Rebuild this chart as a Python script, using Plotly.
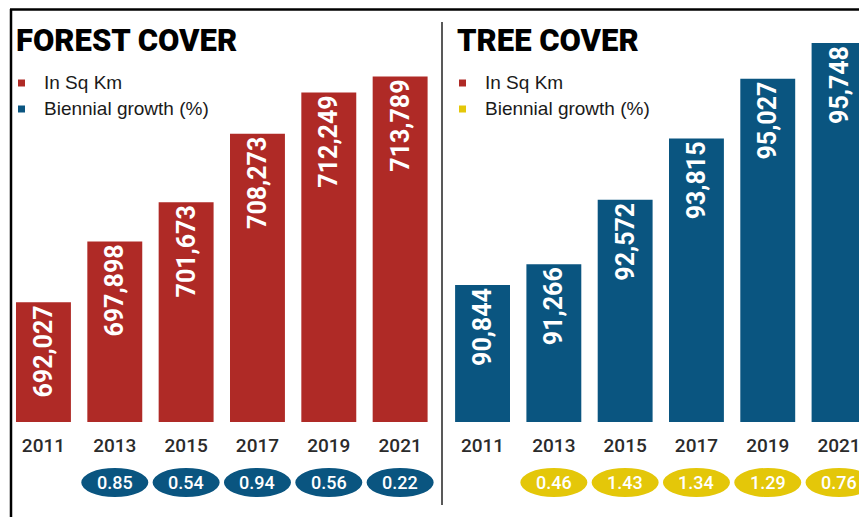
import plotly.graph_objects as go

years = ["2011", "2013", "2015", "2017", "2019", "2021"]
forest_sqkm = [692027, 697898, 701673, 708273, 712249, 713789]
forest_growth = [None, 0.85, 0.54, 0.94, 0.56, 0.22]
tree_sqkm = [90844, 91266, 92572, 93815, 95027, 95748]
tree_growth = [None, 0.46, 1.43, 1.34, 1.29, 0.76]

RED = "#AF2A26"
BLUE = "#0A5580"
YELLOW = "#E4C709"
COND = "Roboto, Liberation Sans, sans-serif"
SANS = "Liberation Sans, Arial, sans-serif"

# page body has an 8px margin: the figure is sized to the remaining window
OX, OY = 8, 8
W, H = 867 - OX, 517 - OY
def px(x):
    return (x - OX) / W
def py(y):
    return 1 - (y - OY) / H

fig = go.Figure()
fig.add_trace(go.Bar(x=years, y=forest_sqkm, marker_color=RED, marker_line_width=0,
                     texttemplate="%{y:,}", textposition="inside", insidetextanchor="end",
                     textangle=-90, textfont=dict(family=COND, size=25, color="white", weight="bold"),
                     xaxis="x", yaxis="y", showlegend=False, hoverinfo="skip"))
fig.add_trace(go.Bar(x=years, y=tree_sqkm, marker_color=BLUE, marker_line_width=0,
                     texttemplate="%{y:,}", textposition="inside", insidetextanchor="end",
                     textangle=-90, textfont=dict(family=COND, size=25, color="white", weight="bold"),
                     xaxis="x2", yaxis="y2", showlegend=False, hoverinfo="skip"))

ybot = py(422)
ytop = py(40)
xaxis_common = dict(type="category", showgrid=False, zeroline=False, showline=False,
                    ticks="outside", ticklen=6, tickcolor="rgba(0,0,0,0)",
                    tickfont=dict(family=COND, size=19, color="#2b2b2b", weight=500))
yaxis_common = dict(visible=False, showgrid=False, zeroline=False)

fig.update_layout(
    width=W, height=H, margin=dict(l=0, r=0, t=0, b=0),
    paper_bgcolor="white", plot_bgcolor="white", bargap=0.23,
    xaxis=dict(domain=[0, px(435.8)], range=[-0.497, 5.5], anchor="y", **xaxis_common),
    yaxis=dict(domain=[ybot, ytop], range=[680500, 717300], anchor="x", **yaxis_common),
    xaxis2=dict(domain=[px(446.9), 1], range=[-0.5, 5.392], anchor="y2", **xaxis_common),
    yaxis2=dict(domain=[ybot, ytop], range=[88070, 95810], anchor="x2", **yaxis_common),
)

shapes = []
annotations = []
# frame lines
shapes.append(dict(type="line", xref="paper", yref="paper", x0=px(10), x1=1, y0=py(9.5), y1=py(9.5),
                   line=dict(color="black", width=2.5)))
shapes.append(dict(type="line", xref="paper", yref="paper", x0=px(11), x1=px(11), y0=py(9), y1=0,
                   line=dict(color="black", width=2.5)))
shapes.append(dict(type="line", xref="paper", yref="paper", x0=px(442), x1=px(442), y0=py(22), y1=py(505),
                   line=dict(color="#222", width=1.5)))

# titles and legends
for title, x0, sq2 in [("FOREST COVER", 16, BLUE), ("TREE COVER", 457, YELLOW)]:
    annotations.append(dict(text=title, xref="paper", yref="paper", x=px(x0 - 2), y=py(41),
                            xanchor="left", yanchor="middle", showarrow=False,
                            font=dict(family=COND, size=31, color="black", weight=900)))
    for yy, col, lab in [(83, RED, "In Sq Km"), (109, sq2, "Biennial growth (%)")]:
        shapes.append(dict(type="rect", xref="paper", yref="paper", x0=px(x0 + 2), x1=px(x0 + 9),
                           y0=py(yy + 3.5), y1=py(yy - 3.5), fillcolor=col, line=dict(width=0)))
        annotations.append(dict(text=lab, xref="paper", yref="paper", x=px(x0 + 26), y=py(yy - 1),
                                xanchor="left", yanchor="middle", showarrow=False,
                                font=dict(family=SANS, size=19, color="#1a1a1a")))

# growth ellipses
for growth, xr, col in [(forest_growth, "x", BLUE), (tree_growth, "x2", YELLOW)]:
    for i, g in enumerate(growth):
        if g is None:
            continue
        shapes.append(dict(type="circle", xref=xr, yref="paper", x0=i - 0.47, x1=i + 0.47,
                           y0=py(497), y1=py(468), fillcolor=col, line=dict(width=0)))
        annotations.append(dict(text=f"{g:.2f}", xref=xr, yref="paper", x=i, y=py(482.5),
                                xanchor="center", yanchor="middle", showarrow=False,
                                font=dict(family=COND, size=18, color="white", weight=500)))

fig.update_layout(shapes=shapes, annotations=annotations)
fig.write_html("out.html")
